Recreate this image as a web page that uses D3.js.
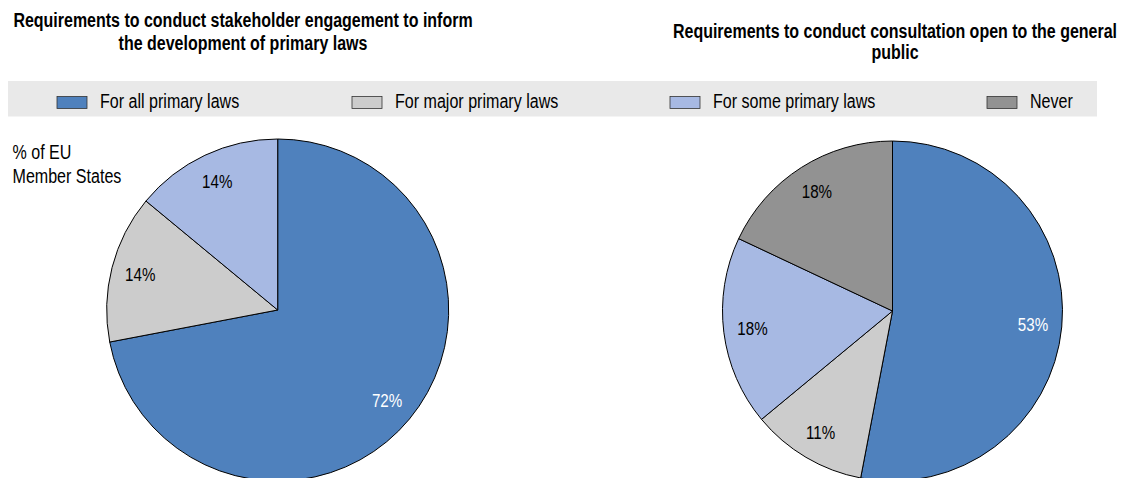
<!DOCTYPE html>
<html>
<head>
<meta charset="utf-8">
<script src="https://cdn.jsdelivr.net/npm/d3@7"></script>
<style>
  html, body { margin: 0; padding: 0; background: #fff; }
  svg { display: block; }
  text { font-family: "Liberation Sans", Arial, sans-serif; fill: #000; }
</style>
</head>
<body>
<svg id="chart" width="1127" height="478"></svg>
<script>
// Share of EU Member States by requirement level
const categories = ["For all primary laws", "For major primary laws", "For some primary laws", "Never"];
const engagementValues = [72, 14, 14, 0];
const publicConsultationValues = [53, 11, 18, 18];
const engagementTitle = ["Requirements to conduct stakeholder engagement to inform", "the development of primary laws"];
const publicTitle = ["Requirements to conduct consultation open to the general", "public"];
const unitLabel = ["% of EU", "Member States"];

const colors = d3.scaleOrdinal()
  .domain(categories)
  .range(["#4F81BD", "#CCCCCC", "#A7B9E3", "#929292"]);
const labelColors = d3.scaleOrdinal()
  .domain(categories)
  .range(["#FFFFFF", "#000000", "#000000", "#000000"]);

const svg = d3.select("#chart");
const NARROW = 0.82; // horizontal squeeze to get a narrow sans face

// Narrow text helper: places a text node at (x, y) with a horizontal squeeze
function narrowText(parent, x, y, str, opts = {}) {
  const g = parent.append("g")
    .attr("transform", `translate(${x},${y}) scale(${NARROW},1)`);
  const t = g.append("text")
    .attr("x", 0).attr("y", 0)
    .attr("text-anchor", opts.anchor || "start")
    .style("font-size", (opts.size || 18) + "px")
    .style("font-weight", opts.weight || "normal")
    .style("fill", opts.fill || "#000")
    .text(str);
  if (opts.dy) t.attr("dy", opts.dy);
  return t;
}

// Titles
const titleSize = 19.5;
narrowText(svg, 243, 27, engagementTitle[0], { anchor: "middle", size: titleSize, weight: "bold" });
narrowText(svg, 243, 50, engagementTitle[1], { anchor: "middle", size: titleSize, weight: "bold" });
narrowText(svg, 895, 37.5, publicTitle[0], { anchor: "middle", size: titleSize, weight: "bold" });
narrowText(svg, 895, 59, publicTitle[1], { anchor: "middle", size: titleSize, weight: "bold" });

// Legend band
svg.append("rect")
  .attr("x", 8).attr("y", 81)
  .attr("width", 1089).attr("height", 35.5)
  .attr("fill", "#E9E9E9");

const legendOffsets = { "For all primary laws": 57, "For major primary laws": 352, "For some primary laws": 670, "Never": 987 };
const legend = svg.append("g");
categories.forEach(c => {
  const x = legendOffsets[c];
  legend.append("rect")
    .attr("x", x).attr("y", 96.5)
    .attr("width", 30).attr("height", 12)
    .attr("fill", colors(c))
    .attr("stroke", "#333").attr("stroke-width", 0.8);
  narrowText(legend, x + 43, 108, c, { size: 19.6 });
});

// Unit note
narrowText(svg, 12.5, 158.5, unitLabel[0], { size: 19.6 });
narrowText(svg, 12.5, 183, unitLabel[1], { size: 19.6 });

// Pies
const pie = d3.pie().sort(null).value(d => d.value);

function drawPie(cx, cy, r, values) {
  const data = categories.map((c, i) => ({ cat: c, value: values[i] }));
  const arcs = pie(data).filter(d => d.data.value > 0);
  const arc = d3.arc().innerRadius(0).outerRadius(r);
  const labelArc = d3.arc().innerRadius(r * 0.83).outerRadius(r * 0.83);
  const g = svg.append("g").attr("transform", `translate(${cx},${cy})`);
  g.selectAll("path")
    .data(arcs)
    .join("path")
    .attr("d", arc)
    .attr("fill", d => colors(d.data.cat))
    .attr("stroke", "#000")
    .attr("stroke-width", 1)
    .attr("stroke-linejoin", "round");
  arcs.forEach(d => {
    const [lx, ly] = labelArc.centroid(d);
    narrowText(g, lx, ly, d.data.value + "%", {
      anchor: "middle", size: 18.5, dy: "0.35em", fill: labelColors(d.data.cat)
    });
  });
}

drawPie(277.7, 310, 171, engagementValues);
drawPie(892.5, 311, 170, publicConsultationValues);
</script>
</body>
</html>
